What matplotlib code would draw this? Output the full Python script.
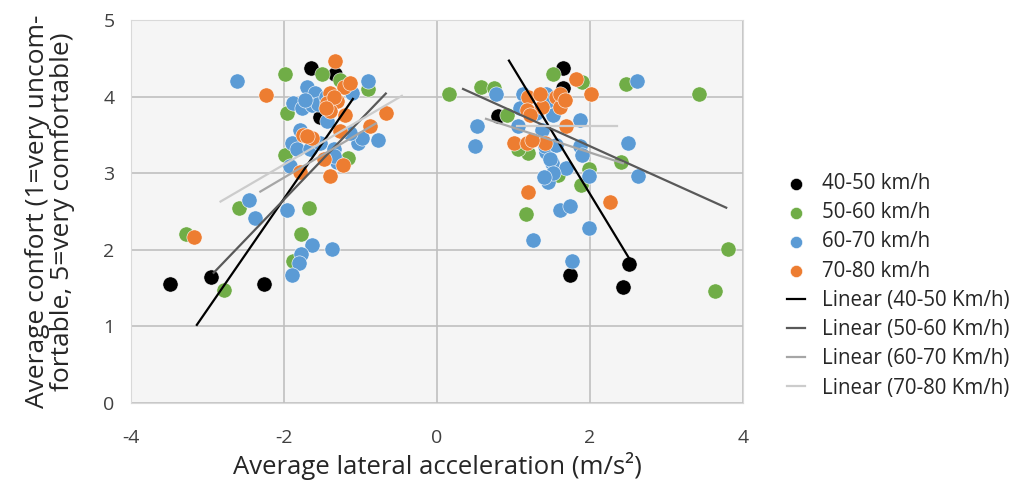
import matplotlib.pyplot as plt
import numpy as np

plt.rcParams['font.family'] = ['Open Sans', 'DejaVu Sans']
plt.rcParams['axes.unicode_minus'] = False

# 40-50 km/h
x_40_50 = [-3.49, -2.96, -2.26, -1.65, -1.33, -1.53, 0.80, 1.65, 1.65, 1.74, 2.51, 2.43]
y_40_50 = [1.56, 1.64, 1.56, 4.37, 4.29, 3.74, 3.75, 4.37, 4.11, 1.67, 1.81, 1.52]

# 50-60 km/h
x_50_60 = [-3.28, -2.79, -2.59, -1.99, -1.51, -1.27, -0.90, -1.96, -1.99, -1.17, -1.67, -1.78, -1.88,
           0.16, 0.57, 0.74, 0.92, 1.51, 1.89, 2.47, 3.42, 1.19, 1.06, 2.41, 1.58, 1.98, 1.88, 1.16,
           3.80, 3.63]
y_50_60 = [2.21, 1.48, 2.55, 4.30, 4.29, 4.22, 4.10, 3.78, 3.24, 3.20, 2.55, 2.21, 1.85,
           4.03, 4.12, 4.11, 3.76, 4.29, 4.19, 4.16, 4.03, 3.26, 3.31, 3.15, 2.98, 3.05, 2.85, 2.47,
           2.01, 1.46]

# 60-70 km/h
x_60_70 = [-2.61, -0.90, -1.70, -1.59, -1.11, -1.88, -1.77, -1.64, -1.44, -0.77, -1.03, -0.98, -1.14,
           -1.79, -1.90, -1.83, -1.92, -1.66, -1.53, -1.35, -1.31, -1.35, -2.46, -2.38, -1.96, -1.64,
           -1.37, -1.78, -1.81, -1.90, -1.55, -1.45, -1.72,
           0.77, 0.52, 0.50, 2.61, 1.13, 1.43, 1.08, 1.06, 1.87, 1.43, 1.87, 1.89, 2.50, 2.63, 1.50,
           1.69, 1.45, 1.98, 1.61, 1.74, 1.98, 1.26, 1.76, 1.48, 1.30, 1.52, 1.37, 1.41, 1.56, 1.48,
           1.52, 1.40]
y_60_70 = [4.20, 4.20, 4.13, 4.05, 4.05, 3.92, 3.85, 3.89, 3.68, 3.44, 3.39, 3.46, 3.53,
           3.57, 3.39, 3.31, 3.09, 3.31, 3.39, 3.31, 3.15, 3.22, 2.65, 2.42, 2.52, 2.06,
           2.01, 1.94, 1.83, 1.67, 3.90, 4.00, 3.95,
           4.03, 3.61, 3.36, 4.20, 4.03, 4.03, 3.85, 3.61, 3.70, 3.28, 3.35, 3.24, 3.40, 2.97, 3.13,
           3.07, 2.89, 2.96, 2.52, 2.57, 2.28, 2.13, 1.86, 3.96, 3.79, 3.76, 3.57, 3.35, 3.37, 3.18,
           3.00, 2.95]

# 70-80 km/h
x_70_80 = [-3.18, -2.24, -1.34, -1.40, -1.22, -1.14, -1.44, -1.31, -1.40, -1.20, -0.67, -0.87, -1.27,
           -1.75, -1.64, -1.70, -1.48, -1.23, -1.79, -1.40, -1.35, -1.45,
           1.81, 2.01, 1.19, 1.56, 1.17, 1.37, 1.61, 1.68, 1.00, 1.17, 1.41, 1.24, 1.19, 2.26, 1.61,
           1.67, 1.21, 1.35]
y_70_80 = [2.17, 4.02, 4.46, 4.05, 4.13, 4.18, 3.92, 3.94, 3.81, 3.76, 3.79, 3.61, 3.55,
           3.50, 3.46, 3.48, 3.18, 3.11, 3.02, 2.96, 4.00, 3.85,
           4.23, 4.03, 3.99, 4.00, 3.83, 3.87, 3.87, 3.61, 3.40, 3.39, 3.39, 3.44, 2.76, 2.63, 4.03,
           3.96, 3.76, 4.03]

# trend line end points (left curve, right curve)
trend_40_50 = [([-3.14, -1.10], [1.02, 3.97]), ([0.94, 2.51], [4.47, 1.89])]
trend_50_60 = [([-2.92, -0.67], [1.70, 4.04]), ([0.34, 3.78], [4.10, 2.55])]
trend_60_70 = [([-2.31, -0.80], [2.76, 3.65]), ([0.64, 2.43], [3.71, 3.13])]
trend_70_80 = [([-2.83, -0.46], [2.63, 4.01]), ([1.05, 2.35], [3.62, 3.62])]

fig = plt.figure(figsize=(10.27, 4.86), dpi=100)
ax = fig.add_axes([0.1276, 0.1708, 0.5959, 0.788])
ax.set_facecolor('#f5f5f5')

series = [
    (x_40_50, y_40_50, '#000000', '40-50 km/h'),
    (x_50_60, y_50_60, '#70ad47', '50-60 km/h'),
    (x_60_70, y_60_70, '#5b9bd5', '60-70 km/h'),
    (x_70_80, y_70_80, '#ed7d31', '70-80 km/h'),
]
for xs, ys, c, lab in series:
    ax.scatter(xs, ys, s=120, color=c, edgecolors='white', linewidths=0.4, label=lab, zorder=3)

trends = [
    (trend_40_50, '#000000', 'Linear (40-50 Km/h)'),
    (trend_50_60, '#595959', 'Linear (50-60 Km/h)'),
    (trend_60_70, '#a6a6a6', 'Linear (60-70 Km/h)'),
    (trend_70_80, '#cccccc', 'Linear (70-80 Km/h)'),
]
for segs, c, lab in trends:
    for i, (tx, ty) in enumerate(segs):
        ax.plot(tx, ty, color=c, lw=1.6, zorder=4, label=lab if i == 0 else None)

ax.set_xlim(-4, 4)
ax.set_ylim(0, 5)
ax.set_xticks([-4, -2, 0, 2, 4])
ax.set_yticks([0, 1, 2, 3, 4, 5])
ax.grid(True, color='#bfbfbf', lw=1.2, zorder=0)
ax.set_axisbelow(True)
for sp in ax.spines.values():
    sp.set_color('#d9d9d9')
ax.tick_params(length=0, labelsize=14, colors='#404040')
ax.tick_params(axis='x', pad=19)
ax.tick_params(axis='y', pad=12)
ax.set_xlabel('Average lateral acceleration (m/s²)', fontsize=18.5, color='#262626', labelpad=3)
ax.set_ylabel('Average confort (1=very uncom-\nfortable, 5=very comfortable)', fontsize=19,
              color='#262626', labelpad=20, linespacing=1.0)

ax.legend(loc='center left', bbox_to_anchor=(0.748, 0.412), bbox_transform=fig.transFigure,
          frameon=False, fontsize=14.8, handlelength=0.9, handletextpad=0.8, markerscale=0.8,
          labelspacing=0.4, labelcolor='#262626')

fig.savefig('out.png', dpi=100)
